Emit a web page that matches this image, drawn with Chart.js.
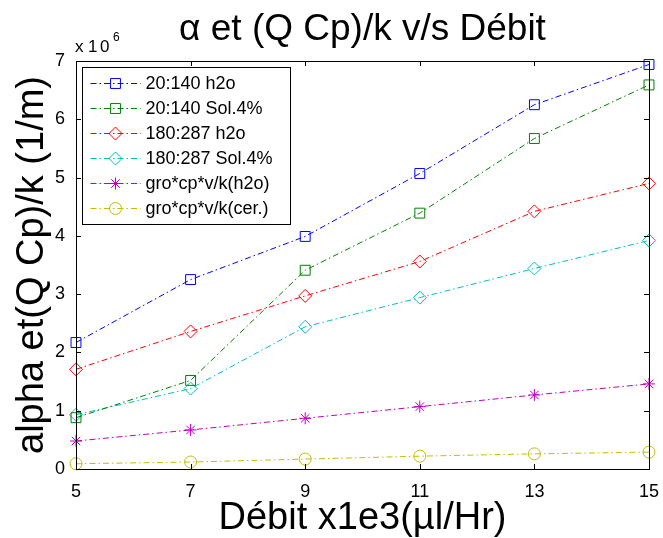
<!DOCTYPE html>
<html>
<head>
<meta charset="utf-8">
<script src="https://cdn.jsdelivr.net/npm/chart.js@4"></script>
<style>
  html, body { margin: 0; padding: 0; background: #fff; }
  #wrap { width: 663px; height: 538px; }
</style>
</head>
<body>
<div id="wrap"><canvas id="chart"></canvas></div>
<script>
// Debit (x1e3 ul/Hr)
const debit = [5, 7, 9, 11, 13, 15];

// alpha et (Q Cp)/k values (1/m)
const h2o20140 = [2.17e6, 3.25e6, 3.99e6, 5.07e6, 6.25e6, 6.94e6];
const sol20140 = [0.88e6, 1.52e6, 3.41e6, 4.39e6, 5.67e6, 6.59e6];
const h2o180287 = [1.71e6, 2.36e6, 2.97e6, 3.56e6, 4.42e6, 4.90e6];
const sol180287 = [0.93e6, 1.38e6, 2.44e6, 2.94e6, 3.44e6, 3.92e6];
const groH2o = [0.48e6, 0.67e6, 0.87e6, 1.07e6, 1.27e6, 1.46e6];
const groCer = [0.09e6, 0.12e6, 0.17e6, 0.22e6, 0.26e6, 0.29e6];

const seriesLabels = ['20:140 h2o', '20:140 Sol.4%', '180:287 h2o', '180:287 Sol.4%', 'gro*cp*v/k(h2o)', 'gro*cp*v/k(cer.)'];
const xTicks = [5, 7, 9, 11, 13, 15];
const yTicks = [0, 1, 2, 3, 4, 5, 6, 7];

const FONT = '"Liberation Sans", Arial, sans-serif';
Chart.defaults.font.family = FONT;
Chart.defaults.color = '#000';

function series(label, values, color, style, radius) {
    return {
        label: label,
        data: debit.map((d, i) => ({ x: d, y: values[i] })),
        borderColor: color,
        borderWidth: 1,
        borderDash: [6, 3, 1.5, 3],
        pointStyle: style,
        pointRadius: radius,
        pointHoverRadius: radius,
        pointBorderColor: color,
        pointBackgroundColor: 'rgba(0,0,0,0)',
        pointBorderWidth: 1,
        tension: 0,
        clip: false
    };
}

// box, inward ticks and the x10^6 multiplier, like a matlab axes
const matlabAxes = {
    id: 'matlabAxes',
    afterDatasetsDraw(chart) {
        const { ctx, chartArea: a, scales } = chart;
        const tl = 5;
        ctx.save();
        ctx.strokeStyle = '#000';
        ctx.lineWidth = 1;
        ctx.setLineDash([]);
        ctx.strokeRect(Math.round(a.left) + 0.5, Math.round(a.top) + 0.5,
            Math.round(a.right - a.left), Math.round(a.bottom - a.top));
        ctx.beginPath();
        xTicks.forEach(v => {
            const px = Math.round(scales.x.getPixelForValue(v)) + 0.5;
            ctx.moveTo(px, a.bottom); ctx.lineTo(px, a.bottom - tl);
            ctx.moveTo(px, a.top); ctx.lineTo(px, a.top + tl);
        });
        yTicks.forEach(v => {
            const py = Math.round(scales.y.getPixelForValue(v * 1e6)) + 0.5;
            ctx.moveTo(a.left, py); ctx.lineTo(a.left + tl, py);
            ctx.moveTo(a.right, py); ctx.lineTo(a.right - tl, py);
        });
        ctx.stroke();

        ctx.fillStyle = '#000';
        ctx.textBaseline = 'alphabetic';
        ctx.textAlign = 'left';
        ctx.font = '17px ' + FONT;
        ctx.fillText('x', a.left - 1, a.top - 9);
        ctx.fillText('1', a.left + 12, a.top - 9);
        ctx.fillText('0', a.left + 24, a.top - 9);
        ctx.font = '12px ' + FONT;
        ctx.fillText('6', a.left + 37, a.top - 20);
        ctx.restore();
    }
};

// legend box drawn inside the top-left corner of the plot
const boxLegend = {
    id: 'boxLegend',
    afterDraw(chart) {
        const { ctx, chartArea: a } = chart;
        const x0 = Math.round(a.left) + 6.5, y0 = Math.round(a.top) + 6.5;
        const w = 208, h = 157;
        ctx.save();
        ctx.fillStyle = '#fff';
        ctx.fillRect(x0, y0, w, h);
        ctx.strokeStyle = '#000';
        ctx.lineWidth = 1;
        ctx.strokeRect(x0, y0, w, h);
        chart.data.datasets.forEach((ds, i) => {
            const yy = y0 + 16 + i * 25;
            ctx.strokeStyle = ds.borderColor;
            ctx.setLineDash(ds.borderDash);
            ctx.beginPath();
            ctx.moveTo(x0 + 8, yy);
            ctx.lineTo(x0 + 58, yy);
            ctx.stroke();
            ctx.setLineDash([]);
            ctx.fillStyle = 'rgba(0,0,0,0)';
            Chart.helpers.drawPoint(ctx, {
                pointStyle: ds.pointStyle, radius: ds.pointRadius, borderWidth: 1, rotation: 0
            }, x0 + 33, yy);
            ctx.fillStyle = '#000';
            ctx.font = '18px ' + FONT;
            ctx.textBaseline = 'middle';
            ctx.fillText(ds.label, x0 + 63, yy + 1);
        });
        ctx.restore();
    }
};

const ctx = document.getElementById('chart').getContext('2d');
new Chart(ctx, {
    type: 'line',
    data: {
        datasets: [
            series(seriesLabels[0], h2o20140, '#0000FF', 'rect', 7),
            series(seriesLabels[1], sol20140, '#008000', 'rect', 7),
            series(seriesLabels[2], h2o180287, '#FF0000', 'rectRot', 6.5),
            series(seriesLabels[3], sol180287, '#00BFBF', 'rectRot', 6.5),
            series(seriesLabels[4], groH2o, '#BF00BF', 'star', 6),
            series(seriesLabels[5], groCer, '#BFBF00', 'circle', 6)
        ]
    },
    options: {
        responsive: true,
        maintainAspectRatio: false,
        animation: false,
        layout: { padding: { left: 0, right: 11, top: 0, bottom: 0 } },
        plugins: {
            legend: { display: false },
            tooltip: { enabled: false },
            title: {
                display: true,
                fullSize: false,
                text: 'α et (Q Cp)/k v/s Débit',
                color: '#000',
                font: { family: FONT, size: 37, weight: 'normal', lineHeight: 1.2 },
                padding: { top: 8, bottom: 8.6 }
            }
        },
        scales: {
            x: {
                type: 'linear',
                min: 5,
                max: 15,
                grid: { display: false },
                border: { display: false },
                afterBuildTicks: scale => { scale.ticks = xTicks.map(v => ({ value: v })); },
                afterFit: scale => { scale.height = 69; },
                ticks: {
                    color: '#000',
                    font: { size: 18 },
                    padding: 4,
                    maxRotation: 0
                },
                title: {
                    display: true,
                    text: 'Débit x1e3(µl/Hr)',
                    color: '#000',
                    font: { size: 38, lineHeight: 1 },
                    padding: { top: 0, bottom: 0 }
                }
            },
            y: {
                min: 0,
                max: 7e6,
                grid: { display: false },
                border: { display: false },
                afterBuildTicks: scale => { scale.ticks = yTicks.map(v => ({ value: v * 1e6 })); },
                afterFit: scale => { scale.width = 76; },
                ticks: {
                    color: '#000',
                    font: { size: 18 },
                    padding: 3,
                    callback: v => String(Math.round(v / 1e6))
                },
                title: {
                    display: true,
                    text: 'alpha et(Q Cp)/k (1/m)',
                    color: '#000',
                    font: { size: 38, lineHeight: 1 },
                    padding: { top: 14, bottom: 0 }
                }
            }
        }
    },
    plugins: [matlabAxes, boxLegend]
});
</script>
</body>
</html>
